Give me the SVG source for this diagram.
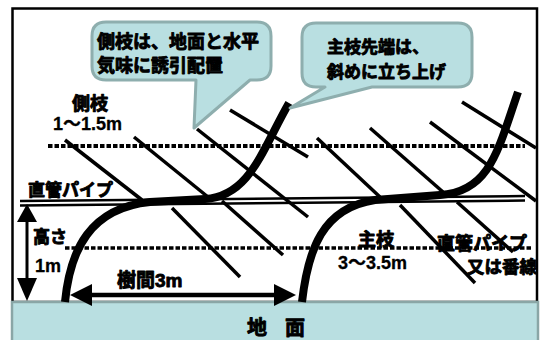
<svg xmlns="http://www.w3.org/2000/svg" width="540" height="340" viewBox="0 0 540 340">
  <style>
    text { font-family: "Liberation Sans", "Noto Sans CJK JP", sans-serif; font-weight: bold; fill: #000; stroke: #000; stroke-width: 0.9px; stroke-linejoin: round; }
    .lbl { font-size: 18px; }
    .num { stroke-width: 0.3px; }
    .bubble { fill: #b9dfe1; stroke: #8eaeae; stroke-width: 3; stroke-linejoin: round; }
    .branch { stroke: #000; stroke-width: 3.5; fill: none; }
    .trunk { stroke: #000; stroke-width: 8; fill: none; }
    .pipe { stroke: #000; stroke-width: 2.5; fill: none; }
    .dots { stroke: #000; fill: none; stroke-dasharray: 4.5 2; }
  </style>

  <!-- frame -->
  <rect x="12.5" y="8.5" width="524.5" height="293.5" fill="#fff" stroke="#000" stroke-width="2.5"/>

  <!-- ground -->
  <g id="ground">
    <rect x="12" y="302" width="526" height="40" fill="#b9dfe1" stroke="#8aa6a6" stroke-width="2.5"/>
    <text x="247" y="335" style="font-size:20px">地</text>
    <text x="285" y="335" style="font-size:20px">面</text>
  </g>

  <!-- height guide lines -->
  <g id="levels">
    <path class="dots" d="M48,146 H525" stroke-width="4"/>
    <path class="dots" d="M65,248 H533" stroke-width="3.5"/>
  </g>

  <g id="connectors">
    <!-- side branches -->
    <g id="branches">
      <path class="branch" d="M65,140 L142,200"/>
      <path class="branch" d="M134,137 L208,197"/>
      <path class="branch" d="M197,129 L308,217"/>
      <path class="branch" d="M230,110 L308,157"/>
      <path class="branch" d="M172,208 L240,277"/>
      <path class="branch" d="M222,201 L283,255"/>
      <path class="branch" d="M317,138 L380,197"/>
      <path class="branch" d="M370,128 L443,192"/>
      <path class="branch" d="M430,122 L536,201"/>
      <path class="branch" d="M462,102 L536,148"/>
      <path class="branch" d="M400,205 L475,283"/>
      <path class="branch" d="M457,202 L513,252"/>
    </g>

    <!-- straight pipe (double line) -->
    <g id="pipe">
      <path class="pipe" d="M20,201 L525,196"/>
      <path class="pipe" d="M20,205.5 L525,200.5"/>
    </g>

    <!-- main branches -->
    <g id="trunks">
      <path class="trunk" d="M65,302 C70,250 90,208 150,202 L205,199 C250,196 262,150 289,103"/>
      <path class="trunk" d="M302,302 C308,250 322,208 375,200 L440,195 C490,192 498,150 518,92"/>
    </g>

    <!-- height arrow -->
    <g id="height-arrow">
      <line x1="27" y1="218" x2="27" y2="282" stroke="#000" stroke-width="3"/>
      <polygon points="27,204 17,222 37,222"/>
      <polygon points="27,301 17,278 37,278"/>
    </g>

    <!-- spacing arrow -->
    <g id="spacing-arrow">
      <line x1="90" y1="295" x2="276" y2="295" stroke="#000" stroke-width="4.5"/>
      <polygon points="70,295 92,284 92,306"/>
      <polygon points="296,295 274,284 274,306"/>
    </g>
  </g>

  <!-- callout: side branches -->
  <g id="callout-side">
    <path class="bubble" d="M106,22 H257 Q271,22 271,36 V66 Q271,80 257,80 H250 L194,128 L196,80 H106 Q92,80 92,66 V36 Q92,22 106,22 Z"/>
    <text class="lbl" x="97" y="48">側枝は、地面と水平</text>
    <text class="lbl" x="97" y="72">気味に誘引配置</text>
  </g>

  <!-- callout: main branch tips -->
  <g id="callout-main">
    <path class="bubble" d="M316,23 H458 Q472,23 472,37 V73 Q472,87 458,87 H372 L290,108 L325,87 H316 Q302,87 302,73 V37 Q302,23 316,23 Z"/>
    <text x="327" y="53" style="font-size:17px">主枝先端は、</text>
    <text x="327" y="78" style="font-size:17px">斜めに立ち上げ</text>
  </g>

  <!-- labels -->
  <g id="label-side">
    <text class="lbl" x="72" y="110">側枝</text>
    <text class="lbl num" x="53" y="130">1～1.5m</text>
  </g>
  <g id="label-pipe-left">
    <text x="28" y="196" style="font-size:17px">直管パイプ</text>
  </g>
  <g id="label-height">
    <text x="33" y="243" style="font-size:17px">高さ</text>
    <text class="lbl num" x="35" y="272">1m</text>
  </g>
  <g id="label-spacing">
    <text x="117" y="287" style="font-size:19px">樹間3m</text>
  </g>
  <g id="label-main">
    <text class="lbl" x="358" y="246">主枝</text>
    <text class="lbl num" x="338" y="269">3～3.5m</text>
  </g>
  <g id="label-pipe-right">
    <text class="lbl" x="437" y="250">直管パイプ</text>
    <text x="467" y="273" style="font-size:17.5px">又は番線</text>
  </g>
</svg>
